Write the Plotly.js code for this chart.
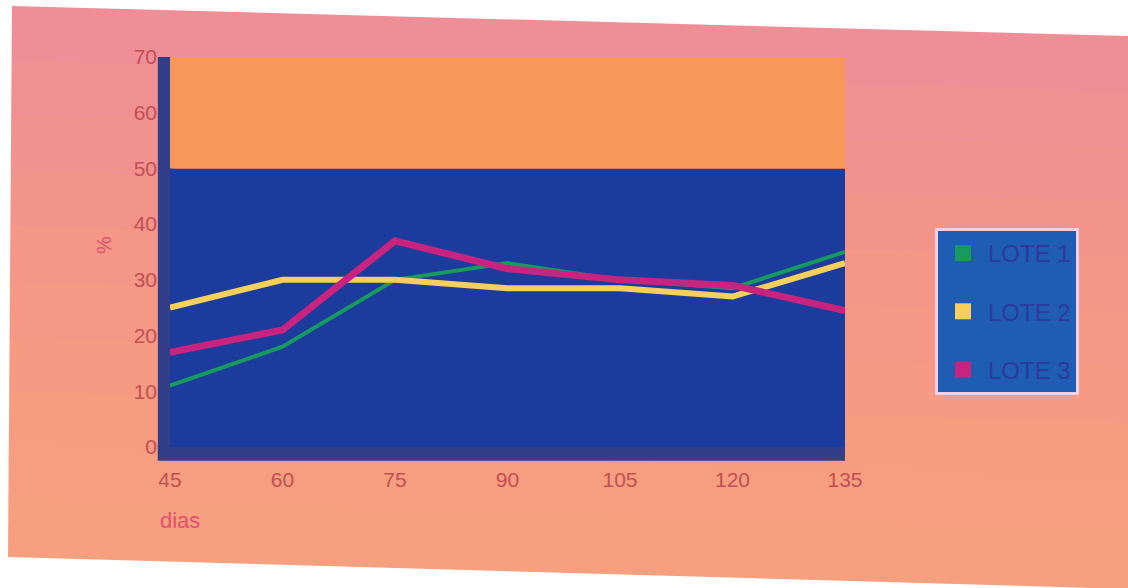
<!DOCTYPE html>
<html><head><meta charset="utf-8">
<script src="https://cdn.plot.ly/plotly-3.0.1.min.js"></script>
<style>body{margin:0;background:#fff}#c{width:1128px;height:588px}</style>
</head><body><div id="c"></div>
<script>
const dias = [45, 60, 75, 90, 105, 120, 135];
const lote1 = [11, 18, 30, 33, 30, 28.5, 35];
const lote2 = [25, 30, 30, 28.5, 28.5, 27, 33];
const lote3 = [17, 21, 37, 32, 30, 29, 24.5];
const seriesNames = ['LOTE 1', 'LOTE 2', 'LOTE 3'];
const yTicks = [0, 10, 20, 30, 40, 50, 60, 70];

const colors = ['#169a5e', '#f7cf5a', '#c8237e'];
const widths = [4, 6, 7];
const series = [lote1, lote2, lote3];

const traces = [];
series.forEach((s, i) => {
  traces.push({x: dias, y: s, mode: 'lines', type: 'scatter', name: seriesNames[i],
    showlegend: false, line: {color: colors[i], width: widths[i]}, hoverinfo: 'skip'});
});
series.forEach((s, i) => {
  traces.push({x: [null], y: [null], mode: 'markers', type: 'scatter', name: seriesNames[i],
    legendgroup: 'g' + i, showlegend: true,
    marker: {symbol: 'square', size: 16, color: colors[i], line: {width: 0}}});
});

const W = 675, H = 390;
const px = v => (v - 170) / W;
const py = v => (447 - v) / H;

// soft background gradient bands (photo backdrop)
const bgShapes = [];
const bandCols = ['#f08e98','#f19093','#f2928f','#f3948b','#f49688','#f59885','#f69a83','#f69c81','#f79e80','#f7a07f'];
const n = bandCols.length;
for (let k = 0; k < n; k++) {
  const f0 = k / n, f1 = (k + 1) / n;
  const lt0 = 6 + (556 - 6) * f0, lt1 = 6 + (556 - 6) * f1;
  const rt0 = 36 + (588 - 36) * f0, rt1 = 36 + (588 - 36) * f1;
  const lx0 = 12 - 4 * f0, lx1 = 12 - 4 * f1;
  bgShapes.push({type: 'path', xref: 'paper', yref: 'paper', layer: 'below',
    path: `M ${px(lx0)} ${py(lt0)} L ${px(1128)} ${py(rt0)} L ${px(1128)} ${py(rt1 + 1)} L ${px(lx1)} ${py(lt1 + 1)} Z`,
    fillcolor: bandCols[k], line: {width: 0}});
}

const layout = {
  width: 1128, height: 588,
  margin: {l: 170, r: 283, t: 57, b: 141},
  paper_bgcolor: '#ffffff',
  plot_bgcolor: 'rgba(0,0,0,0)',
  showlegend: true,
  legend: {
    x: px(935), y: py(228), xanchor: 'left', yanchor: 'top',
    bgcolor: '#1f5db4', bordercolor: '#f4d0e6', borderwidth: 3,
    font: {family: 'Liberation Sans, Arial', size: 24, color: '#2d3a9c'},
    tracegroupgap: 24, itemwidth: 40
  },
  xaxis: {
    range: [45, 135], tickvals: dias, ticktext: dias.map(String),
    showgrid: false, zeroline: false, showline: false, ticks: '',
    tickfont: {family: 'Liberation Sans, Arial', size: 21, color: '#c24f52'},
    ticklabelstandoff: 18, fixedrange: true
  },
  yaxis: {
    range: [0, 70], tickvals: yTicks, ticktext: yTicks.map(String),
    showgrid: false, zeroline: false, showline: false, ticks: '',
    tickfont: {family: 'Liberation Sans, Arial', size: 21, color: '#c24f52'},
    ticklabelstandoff: 12, fixedrange: true
  },
  shapes: bgShapes.concat([
    // wall side edges
    {type: 'rect', xref: 'paper', yref: 'paper', layer: 'below',
     x0: -0.018, x1: 0.005, y0: -0.03, y1: 1.0, fillcolor: '#323e88', line: {width: 0}},
    {type: 'rect', xref: 'paper', yref: 'paper', layer: 'below',
     x0: -0.018, x1: 1.0, y0: -0.035, y1: 0.005, fillcolor: '#323e88', line: {width: 0}},
    // wall
    {type: 'rect', xref: 'x', yref: 'y', layer: 'below',
     x0: 45, x1: 135, y0: 0, y1: 50, fillcolor: '#1b3c9c', line: {width: 0}},
    {type: 'rect', xref: 'x', yref: 'y', layer: 'below',
     x0: 45, x1: 135, y0: 50, y1: 70, fillcolor: '#f8975a', line: {width: 0}}
  ]),
  annotations: [
    {text: '%', xref: 'paper', yref: 'paper', x: px(104), y: py(245), xanchor: 'center', yanchor: 'middle',
     showarrow: false, textangle: -90, font: {family: 'Liberation Sans, Arial', size: 20, color: '#e0506a'}},
    {text: 'dias', xref: 'paper', yref: 'paper', x: px(180), y: py(520), xanchor: 'center', yanchor: 'middle',
     showarrow: false, font: {family: 'Liberation Sans, Arial', size: 22, color: '#e2506c'}}
  ]
};
Plotly.newPlot('c', traces, layout, {displayModeBar: false, staticPlot: true});
</script></body></html>
